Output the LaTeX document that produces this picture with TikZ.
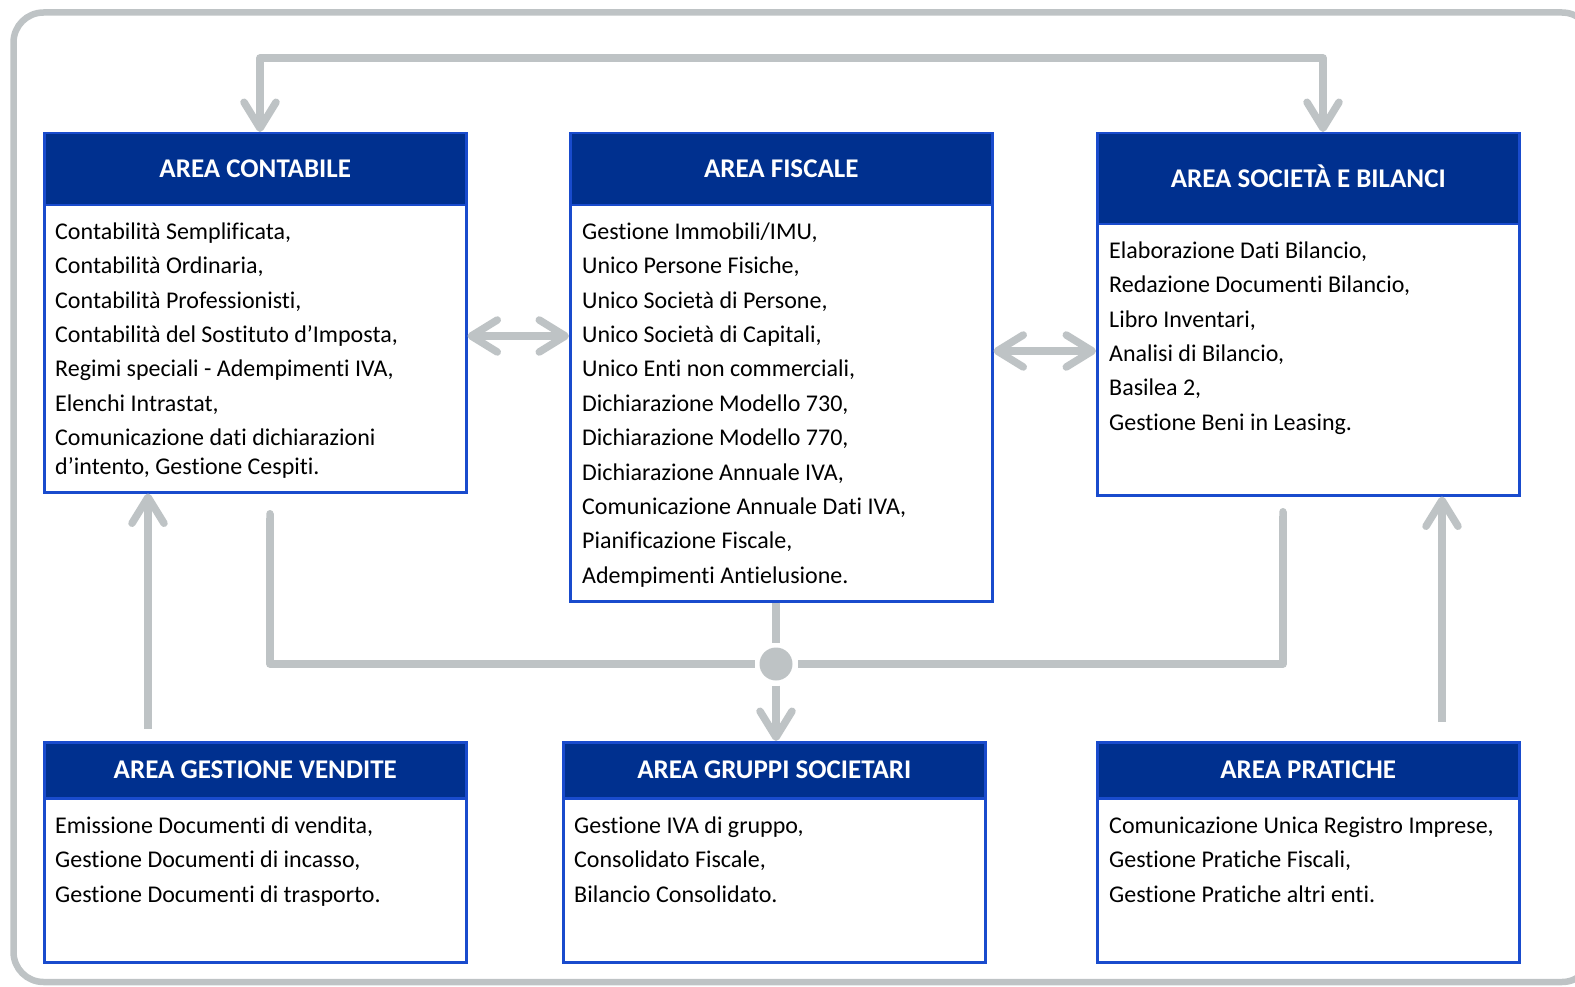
\documentclass[tikz,border=0pt]{standalone}
\usepackage{fontspec}
\setmainfont{Carlito}[Ligatures=NoCommon]
\usetikzlibrary{arrows.meta,positioning}
\definecolor{areanavy}{RGB}{0,48,143}
\definecolor{areablue}{RGB}{25,75,205}
\definecolor{linkgray}{RGB}{190,195,197}

\begin{document}
\begin{tikzpicture}[x=1pt, y=-1pt, >={Straight Barb[length=26pt,width=32pt,round]},
  areabox/.style={rectangle, draw=areablue, line width=2.5pt, fill=white, minimum width=422pt, anchor=north west, inner sep=0pt},
  areahead/.style={rectangle, draw=areablue, line width=2.5pt, fill=areanavy, text=white, minimum width=422pt, anchor=north west, inner sep=0pt, text height=17.4pt, text depth=0pt, font=\fontsize{27}{31}\selectfont\bfseries},
  areatext/.style={anchor=north west, inner sep=0pt, align=left, font=\fontsize{24}{29}\selectfont},
  link/.style={draw=linkgray, line width=7.5pt, line join=round}]
  \useasboundingbox (0,0) rectangle (1575,987);
  \clip (0,0) rectangle (1575,987);
  % Frame
  \draw[linkgray, line width=6.5pt, rounded corners=30pt] (13.5,12.5) rectangle (1592,982);

  % Boxes
  \node[areabox, minimum height=359pt] (cont) at (43,132) {};
  \node[areahead, minimum height=72pt] (conthead) at (cont.north west) {AREA CONTABILE};
  \node[areatext] (conttext) at (55,219) {\rule{0pt}{20pt}Contabilità Semplificata,\\[5.4pt]
    Contabilità Ordinaria,\\[5.4pt]
    Contabilità Professionisti,\\[5.4pt]
    Contabilità del Sostituto d’Imposta,\\[5.4pt]
    Regimi speciali - Adempimenti IVA,\\[5.4pt]
    Elenchi Intrastat,\\[5.4pt]
    Comunicazione dati dichiarazioni\\
    d’intento, Gestione Cespiti.};

  \node[areabox, minimum height=468pt] (fisc) at (569,132) {};
  \node[areahead, minimum height=72pt] (fischead) at (fisc.north west) {AREA FISCALE};
  \node[areatext] (fisctext) at (582,219) {\rule{0pt}{20pt}Gestione Immobili/IMU,\\[5.4pt]
    Unico Persone Fisiche,\\[5.4pt]
    Unico Società di Persone,\\[5.4pt]
    Unico Società di Capitali,\\[5.4pt]
    Unico Enti non commerciali,\\[5.4pt]
    Dichiarazione Modello 730,\\[5.4pt]
    Dichiarazione Modello 770,\\[5.4pt]
    Dichiarazione Annuale IVA,\\[5.4pt]
    Comunicazione Annuale Dati IVA,\\[5.4pt]
    Pianificazione Fiscale,\\[5.4pt]
    Adempimenti Antielusione.};

  \node[areabox, minimum height=362pt] (soc) at (1096,132) {};
  \node[areahead, minimum height=91pt] (sochead) at (soc.north west) {AREA SOCIETÀ E BILANCI};
  \node[areatext] (soctext) at (1109,238) {\rule{0pt}{20pt}Elaborazione Dati Bilancio,\\[5.4pt]
    Redazione Documenti Bilancio,\\[5.4pt]
    Libro Inventari,\\[5.4pt]
    Analisi di Bilancio,\\[5.4pt]
    Basilea 2,\\[5.4pt]
    Gestione Beni in Leasing.};

  \node[areabox, minimum height=220pt] (vend) at (43,741) {};
  \node[areahead, minimum height=56pt] (vendhead) at (vend.north west) {AREA GESTIONE VENDITE};
  \node[areatext] (vendtext) at (55,813) {\rule{0pt}{20pt}Emissione Documenti di vendita,\\[5.4pt]
    Gestione Documenti di incasso,\\[5.4pt]
    Gestione Documenti di trasporto.};

  \node[areabox, minimum height=220pt] (gru) at (562,741) {};
  \node[areahead, minimum height=56pt] (gruhead) at (gru.north west) {AREA GRUPPI SOCIETARI};
  \node[areatext] (grutext) at (574,813) {\rule{0pt}{20pt}Gestione IVA di gruppo,\\[5.4pt]
    Consolidato Fiscale,\\[5.4pt]
    Bilancio Consolidato.};

  \node[areabox, minimum height=220pt] (prat) at (1096,741) {};
  \node[areahead, minimum height=56pt] (prathead) at (prat.north west) {AREA PRATICHE};
  \node[areatext] (prattext) at (1109,813) {\rule{0pt}{20pt}Comunicazione Unica Registro Imprese,\\[5.4pt]
    Gestione Pratiche Fiscali,\\[5.4pt]
    Gestione Pratiche altri enti.};

  % Connectors
  \coordinate (topl) at (260,58);
  \coordinate (topr) at (1323,58);
  \draw[link, <->] (cont.north -| topl) -- (topl) -- (topr) -- (soc.north -| topr);

  \coordinate (cfy) at (0,336);
  \draw[link, <->] (cont.east |- cfy) -- (fisc.west |- cfy);
  \coordinate (fsy) at (0,351);
  \draw[link, <->] (fisc.east |- fsy) -- (soc.west |- fsy);

  \coordinate (vendup) at (148,729);
  \draw[link, ->] (vendup) -- (cont.south -| vendup);
  \coordinate (pratup) at (1442,722);
  \draw[link, ->] (pratup) -- (soc.south -| pratup);

  % Hub
  \node[circle, fill=linkgray, minimum size=33pt, inner sep=0pt, outer sep=5pt] (hub) at (776,664) {};
  \coordinate (contdown) at (270,510);
  \draw[link, {Round Cap}-] (contdown) |- (hub.west);
  \coordinate (socdown) at (1283,508);
  \draw[link, {Round Cap}-] (socdown) |- (hub.east);
  \draw[link] (fisc.south -| hub) -- (hub.north);
  \draw[link, ->] (hub.south) -- (gru.north -| hub);
\end{tikzpicture}
\end{document}
